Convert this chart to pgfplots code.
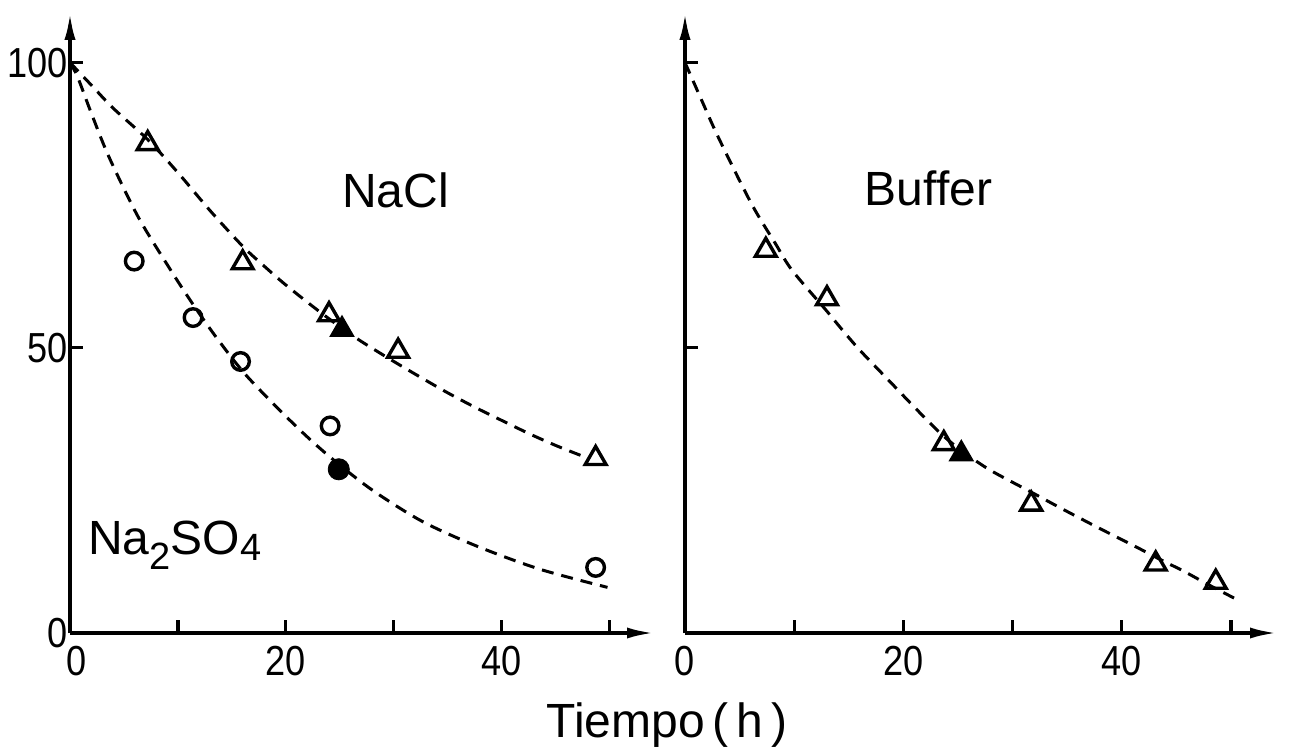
\documentclass[border=0pt]{standalone}
\usepackage{fontspec}
\setmainfont{Liberation Sans}
\newfontfamily\narrowfont{Liberation Sans}[FakeStretch=0.86]
\usepackage{pgfplots}
\pgfplotsset{compat=1.18}
\usetikzlibrary{arrows.meta}

\pgfplotsset{
  panel/.style={
    scale only axis,
    height=310.6pt,
    xmin=0, ymin=0, ymax=108.9,
    axis lines=left,
    axis line style={line width=1.9pt, -{Latex[length=14pt,width=5.5pt]}},
    tick align=inside,
    major tick length=6.5pt,
    tick style={line width=1.6pt, black},
    xtick={0,10,20,30,40,50},
    xticklabels={\kern7pt 0,,20,,40,},
    ytick={0,50,100},
    /pgf/number format/assume math mode=true,
    ticklabel style={font=\narrowfont\fontsize{21}{23}\selectfont},
    xticklabel style={yshift=-3pt},
    yticklabel style={anchor=east, inner sep=1pt},
    clip=false,
  },
  curve/.style={black, line width=1.5pt, dash pattern=on 6pt off 4pt, smooth, no marks},
  opentri/.style={only marks, mark=triangle, mark size=6pt, mark options={solid, line width=1.7pt, fill=white, draw=black}},
  filltri/.style={only marks, mark=triangle*, mark size=6.2pt, mark options={solid, line width=1.2pt, fill=black, draw=black}},
  opencirc/.style={only marks, mark=o, mark size=4.4pt, mark options={solid, line width=1.7pt, fill=white, draw=black}},
  fillcirc/.style={only marks, mark=*, mark size=5.3pt, mark options={solid, fill=black, draw=black}},
}

\begin{document}
\begin{tikzpicture}
\path[use as bounding box] (-35pt,-59pt) rectangle (610pt,316.5pt);

% Left panel: NaCl and Na2SO4
\begin{axis}[panel, width=292.5pt, xmax=54.2, at={(0pt,0pt)}]
  % NaCl fitted curve
  \addplot[curve] coordinates {
    (0,100) (2,96) (4,92) (7.2,86.5) (10,80.7) (13,74) (16,67.8) (18,64.3)
    (20,61) (22.8,56.8) (25,53.7) (27,51.1) (30,47.6) (32.6,44.7) (35,42.1)
    (37.7,39.4) (40.4,36.9) (42.7,34.8) (45.1,32.8) (47.5,31)
  };
  % Na2SO4 fitted curve
  \addplot[curve] coordinates {
    (0,100) (0.7,97.5) (2,91) (3.6,83.5) (6.3,73) (9.1,64.3) (11.4,57.6)
    (13.8,51.2) (16.5,44.8) (20.8,36.5) (24,31) (27.9,25.2) (32.6,19.6)
    (37.6,15.3) (43.5,11.2) (49.8,8)
  };
  % NaCl data
  \addplot[opentri] coordinates {
    (7.2,85.8) (16.0,64.9) (24.0,55.8) (30.4,49.4) (48.7,30.6)
  };
  \addplot[filltri] coordinates {(25.2,53.2)};
  % Na2SO4 data
  \addplot[opencirc] coordinates {
    (5.95,65.2) (11.4,55.3) (15.8,47.6) (24.1,36.3) (48.7,11.5)
  };
  \addplot[fillcirc] coordinates {(24.9,28.7)};

  \node[anchor=base, font=\fontsize{24}{28}\selectfont] at (axis cs:30.15,74.6) {NaCl};
  \node[anchor=base, font=\fontsize{24}{28}\selectfont] at (axis cs:9.7,13.8)
    {Na\raisebox{-0.32em}{\fontsize{19}{20}\selectfont 2}SO\raisebox{-0.12em}{\fontsize{19}{20}\selectfont 4}};
\end{axis}

% Right panel: Buffer
\begin{axis}[panel, width=296.5pt, xmax=54.3, at={(307.5pt,0pt)}, yticklabels={,,}, xticklabels={0,,20,,40,}]
  \addplot[curve] coordinates {
    (0,100) (1.5,93.5) (3.1,86.7) (6.1,75.2) (8.3,68.2) (9.8,63.6) (13,56.4)
    (14.2,53.6) (16,49.6) (19,43.6) (21,39.6) (23.4,35) (25.3,32) (27.9,28.6)
    (31.7,24.7) (34.5,21.8) (38,18.3) (41.1,15.3) (43.5,12.9) (45.6,10.9)
    (48,8.4) (50.4,6)
  };
  \addplot[opentri] coordinates {
    (7.4,67.1) (13.0,58.6) (23.7,33.2) (31.7,22.6) (43.1,12.1) (48.6,8.9)
  };
  \addplot[filltri] coordinates {(25.3,31.4)};

  \node[anchor=base, font=\fontsize{24}{28}\selectfont] at (axis cs:22.3,75) {Buffer};
\end{axis}

\node[anchor=base, font=\fontsize{24}{28}\selectfont] at (298.5pt,-52pt) {Tiempo\,(\,h\,)};
\end{tikzpicture}
\end{document}
